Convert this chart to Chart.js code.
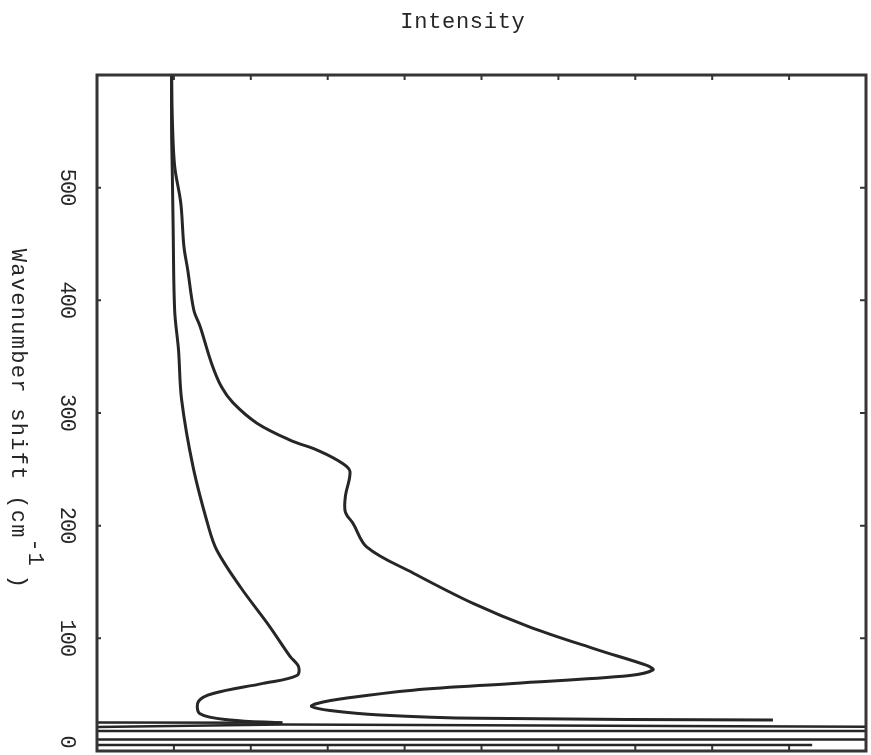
<!DOCTYPE html>
<html>
<head>
<meta charset="utf-8">
<title>Intensity vs wavenumber shift</title>
<script src="https://cdn.jsdelivr.net/npm/chart.js@4.4.0/dist/chart.umd.min.js"></script>
<style>
  html, body { margin: 0; padding: 0; background: #ffffff; }
  #wrap { width: 871px; height: 755px; }
</style>
</head>
<body>
<div id="wrap"><canvas id="ramanChart" width="871" height="755"></canvas></div>
<script>
// inner spectrum (left curve)
const intensityA = [0.97, 0.97, 0.98, 0.99, 1.01, 1.06, 1.10, 1.25, 1.45, 1.56, 1.86, 2.25, 2.51, 2.62, 2.60, 2.16, 1.51, 1.32, 1.34, 1.73, 2.41];
const shiftA     = [600, 551, 510, 465, 391, 356, 312, 252, 199, 178, 146, 110, 84, 75, 67, 60, 51, 44, 33, 27.5, 25];

// outer spectrum (right curve)
const intensityB = [0.97, 0.98, 1.01, 1.09, 1.13, 1.18, 1.26, 1.34, 1.49, 1.62, 1.77, 2.08, 2.51, 2.90, 3.20, 3.29, 3.23, 3.23, 3.33, 3.51, 4.11, 4.89, 5.63, 6.50, 7.15, 7.23, 6.93, 5.41, 4.11, 3.25, 2.85, 2.79, 3.03, 3.68, 4.98, 8.79];
const shiftB     = [600, 560, 519, 486, 448, 427, 391, 377, 344, 323, 309, 291, 276, 266, 255, 248, 226, 212, 202, 181, 158, 131, 110, 90, 76, 72, 67, 60, 54, 47, 42, 39.5, 36, 32, 29, 27.5];

// off-scale laser line strokes near 0 cm-1
const baseIntensityA = [2.41, -0.5, -0.5, 2.42, 12, 12, -0.5, -0.5, 12];
const baseShiftA     = [25, 25.3, 20.8, 23.6, 21.0, 17.8, 17.8, 10.3, 10.3];
const baseIntensityB = [-0.5, 9.3];
const baseShiftB     = [5.3, 5.3];

// axes
const xTickValues = [1, 2, 3, 4, 5, 6, 7, 8, 9];
const yTickValues = [0, 100, 200, 300, 400, 500];
const yTickLabels = ["0", "100", "200", "300", "400", "500"];

const ink = "#262626";
const fontName = '"Liberation Mono", "DejaVu Sans Mono", monospace';

function toPoints(xs, ys) {
    return xs.map((v, i) => ({ x: v, y: ys[i] }));
}

// draw monospaced text one char at a time with a fixed pitch
function spacedText(ctx, text, x0, y0, pitch) {
    for (let i = 0; i < text.length; i++) {
        ctx.fillText(text[i], x0 + i * pitch + pitch / 2, y0);
    }
}

const paperFrame = {
    id: "paperFrame",
    afterDatasetsDraw(chart) {
        const ctx = chart.ctx;
        const a = chart.chartArea;
        const x = chart.scales.x;
        const y = chart.scales.y;
        ctx.save();

        // box
        ctx.strokeStyle = "#353535";
        ctx.lineWidth = 3;
        ctx.strokeRect(a.left, a.top, a.right - a.left, a.bottom - a.top);

        // inward ticks
        ctx.lineWidth = 2;
        ctx.beginPath();
        xTickValues.forEach(v => {
            const px = x.getPixelForValue(v);
            ctx.moveTo(px, a.top); ctx.lineTo(px, a.top + 5);
            ctx.moveTo(px, a.bottom); ctx.lineTo(px, a.bottom - 5);
        });
        yTickValues.forEach(v => {
            if (v === 0) return;
            const py = y.getPixelForValue(v);
            ctx.moveTo(a.left, py); ctx.lineTo(a.left + 4, py);
            ctx.moveTo(a.right, py); ctx.lineTo(a.right - 6, py);
        });
        ctx.stroke();

        ctx.fillStyle = ink;
        ctx.textAlign = "center";
        ctx.textBaseline = "middle";

        // tick labels, turned a quarter clockwise
        ctx.font = "22px " + fontName;
        yTickValues.forEach((v, i) => {
            const txt = yTickLabels[i];
            const py = Math.min(y.getPixelForValue(v), a.bottom - 9);
            ctx.save();
            ctx.translate(67, py);
            ctx.rotate(Math.PI / 2);
            spacedText(ctx, txt, -txt.length * 12.3 / 2, 0, 12.3);
            ctx.restore();
        });

        // top title
        ctx.font = "22px " + fontName;
        spacedText(ctx, "Intensity", 400, 22, 13.9);

        // side title
        ctx.save();
        ctx.translate(18, 248);
        ctx.rotate(Math.PI / 2);
        spacedText(ctx, "Wavenumber shift (cm", 0, 0, 14.5);
        spacedText(ctx, "-1", 290, -17, 14);
        spacedText(ctx, ")", 326, 0, 14.5);
        ctx.restore();

        ctx.restore();
    }
};

const curveStyle = {
    showLine: true,
    pointRadius: 0,
    borderColor: ink,
    borderWidth: 3,
    fill: false
};

new Chart(document.getElementById("ramanChart"), {
    type: "scatter",
    data: {
        datasets: [
            Object.assign({ label: "A", data: toPoints(intensityA, shiftA), tension: 0.35 }, curveStyle),
            Object.assign({ label: "B", data: toPoints(intensityB, shiftB), tension: 0.35 }, curveStyle),
            Object.assign({ label: "A base", data: toPoints(baseIntensityA, baseShiftA), tension: 0 }, curveStyle, { borderWidth: 2.5 }),
            Object.assign({ label: "B base", data: toPoints(baseIntensityB, baseShiftB), tension: 0 }, curveStyle, { borderWidth: 2.5 })
        ]
    },
    options: {
        responsive: false,
        animation: false,
        events: [],
        layout: { padding: { left: 97, right: 5, top: 75, bottom: 4 } },
        scales: {
            x: { type: "linear", min: 0, max: 10, display: false },
            y: { type: "linear", min: 0, max: 600, display: false }
        },
        plugins: {
            legend: { display: false },
            tooltip: { enabled: false },
            title: { display: false }
        }
    },
    plugins: [paperFrame]
});
</script>
</body>
</html>
